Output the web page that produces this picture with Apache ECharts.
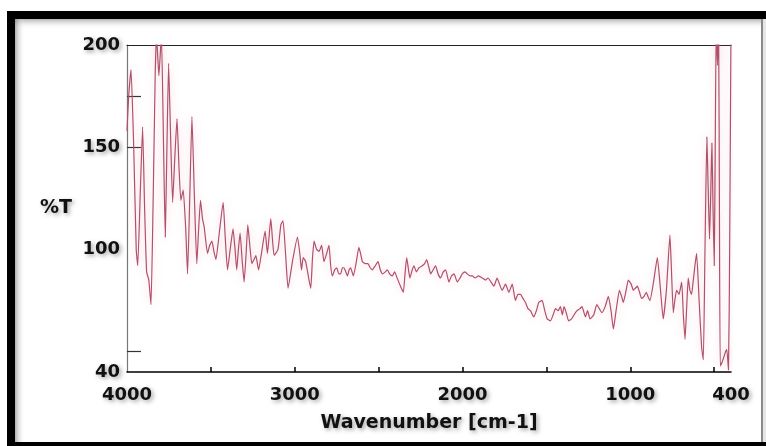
<!DOCTYPE html>
<html>
<head>
<meta charset="utf-8">
<script src="https://cdn.jsdelivr.net/npm/echarts@6/dist/echarts.min.js"></script>
<style>
html,body{margin:0;padding:0;background:#fff;}
#chart{width:766px;height:446px;}
</style>
</head>
<body>
<div id="chart"></div>
<script>
// Wavenumber (cm-1) and transmittance (%T)
const wavenumbers = [
4000,3990,3976,3960,3945,3936,3920,3907,3895,3883,3870,3857,3845,3832,3824,3810,3795,3782,3772,3762,
3752,3740,3728,3715,3702,3690,3679,3665,3650,3639,3626,3613,3598,3584,3573,3562,3550,3540,3520,3507,
3494,3482,3470,3450,3427,3414,3401,3385,3368,3356,3346,3336,3326,3314,3302,3290,3280,3268,3256,3243,
3232,3216,3195,3177,3163,3143,3133,3123,3100,3083,3070,3055,3040,3012,2984,2970,2960,2950,2935,2905,
2895,2885,2870,2855,2840,2826,2810,2796,2786,2776,2762,2750,2738,2726,2716,2707,2696,2686,2676,2667,
2651,2635,2618,2608,2597,2580,2564,2550,2538,2520,2504,2490,2478,2460,2448,2435,2419,2405,2390,2370,
2353,2343,2333,2322,2314,2300,2290,2275,2260,2240,2226,2214,2200,2190,2175,2161,2146,2131,2115,2101,
2081,2066,2051,2031,2015,2002,1985,1972,1955,1942,1925,1905,1883,1863,1848,1830,1813,1794,1780,1764,
1744,1724,1704,1685,1670,1655,1640,1625,1610,1595,1576,1560,1546,1526,1510,1496,1476,1460,1446,1430,
1417,1405,1395,1382,1368,1350,1335,1318,1300,1288,1268,1255,1240,1218,1200,1185,1170,1150,1131,1115,
1101,1085,1065,1052,1042,1025,1012,995,982,970,958,945,933,918,905,895,883,860,839,822,
804,785,764,755,744,735,724,710,694,684,674,664,655,645,635,626,615,605,590,575,
565,555,544,536,528,520,514,507,500,494,488,481,474,469,464,452,440,432,425,415,
408,400
];
const transmittance = [
158,175,188,150,100,92,130,160,120,89,85,73,120,185,205,185,205,150,106,150,
191,155,123,145,164,140,124,129,110,88,125,165,125,93,110,124,115,111,98,102,
104,99,95,108,123,105,90,100,110,100,90,100,108,95,84,98,112,102,93,95,
97,90,100,109,98,115,105,97,100,112,114,98,81,95,106,98,90,96,94,81,
95,104,100,99,102,94,98,102,92,87,90,91,88,88,91,91,89,87,90,91,
87,93,101,98,94,93,93,91,90,92,94,90,88,89,90,88,87,89,86,82,
79,88,96,90,86,90,92,89,91,92,93,95,91,88,90,92,88,86,89,90,
84,87,88,84,86,88,89,88,87,87,86,87,86,85,86,84,82,86,83,80,
83,79,83,75,78,78,76,74,71,70,67,70,74,75,70,66,65,68,71,70,
72,68,72,69,65,66,68,70,71,72,67,70,66,68,73,71,69,72,77,70,
61,70,80,77,74,80,85,83,80,81,82,79,76,77,79,77,75,85,96,82,
66,80,107,90,69,75,80,78,84,68,56,72,86,80,78,84,92,98,75,52,
46,100,155,130,105,130,152,120,92,150,210,190,210,120,43,45,48,50,51,41,
100,210
];
const xLabelValues = [4000, 3000, 2000, 1000, 400];
const xTickValues = [3500, 3000, 2500, 2000, 1500, 1000, 500];
const yLabelValues = [40, 100, 150, 200];
const yTickValues = [50, 150, 175];

const spectrum = wavenumbers.map((w, i) => [w, transmittance[i]]);

const FONT = 'DejaVu Sans';
const shadowText = {
  fontFamily: FONT, fontWeight: 'bold', fontSize: 18, color: '#111',
  textShadowColor: 'rgba(0,0,0,0.35)', textShadowBlur: 4,
  textShadowOffsetX: 2, textShadowOffsetY: 2
};

const chart = echarts.init(document.getElementById('chart'), null, {renderer: 'canvas'});
chart.setOption({
  animation: false,
  backgroundColor: '#fff',
  graphic: [
    {type: 'rect', z: -10, silent: true, shape: {x: 7, y: 11, width: 759, height: 435}, style: {fill: '#000'}},
    {type: 'rect', z: -9, silent: true, shape: {x: 15, y: 19, width: 746, height: 423}, style: {fill: '#fff'}},
    {type: 'rect', z: -8, silent: true, shape: {x: 15, y: 19, width: 746, height: 10},
      style: {fill: new echarts.graphic.LinearGradient(0, 0, 0, 1, [{offset: 0, color: 'rgba(120,120,120,0.55)'}, {offset: 1, color: 'rgba(255,255,255,0)'}])}},
    {type: 'rect', z: -8, silent: true, shape: {x: 15, y: 19, width: 10, height: 423},
      style: {fill: new echarts.graphic.LinearGradient(0, 0, 1, 0, [{offset: 0, color: 'rgba(120,120,120,0.6)'}, {offset: 1, color: 'rgba(255,255,255,0)'}])}},
    {type: 'rect', z: -8, silent: true, shape: {x: 761, y: 19, width: 2, height: 423}, style: {fill: '#8a8a8a'}},
    {type: 'rect', z: -8, silent: true, shape: {x: 763, y: 19, width: 3, height: 423}, style: {fill: '#e6e6e6'}}
  ],
  grid: {left: 127, top: 45, width: 604, height: 327, containLabel: false},
  xAxis: [
    {
      type: 'value', min: 400, max: 4000, inverse: true, position: 'bottom',
      name: 'Wavenumber [cm-1]', nameLocation: 'middle', nameGap: 42,
      nameTextStyle: Object.assign({}, shadowText, {fontSize: 19}),
      axisLine: {show: true, lineStyle: {color: '#000', width: 1.5}},
      axisTick: {show: true, inside: true, length: 5, customValues: xTickValues, lineStyle: {color: '#000', width: 1.5}},
      axisLabel: Object.assign({customValues: xLabelValues, margin: 14, formatter: v => String(v)}, shadowText),
      splitLine: {show: false}
    },
    {
      type: 'value', min: 400, max: 4000, inverse: true, position: 'top',
      axisLine: {show: true, lineStyle: {color: '#222', width: 1.2}},
      axisTick: {show: false}, axisLabel: {show: false}, splitLine: {show: false}
    }
  ],
  yAxis: {
    type: 'value', min: 40, max: 200,
    name: '%T', nameLocation: 'middle', nameGap: 55, nameRotate: 0,
    nameTextStyle: Object.assign({}, shadowText, {fontSize: 19, padding: [23, 0, 0, 0]}),
    axisLine: {show: true, lineStyle: {color: '#777', width: 1.2}},
    axisTick: {show: true, inside: true, length: 14, customValues: yTickValues, lineStyle: {color: '#333', width: 1.2}},
    axisLabel: Object.assign({customValues: yLabelValues, margin: 7, formatter: v => String(v)}, shadowText),
    splitLine: {show: false}
  },
  series: [{
    type: 'line', xAxisIndex: 0, data: spectrum, showSymbol: false, symbol: 'none',
    clip: true, smooth: 0.15,
    lineStyle: {color: '#b0506a', width: 1.2, shadowColor: 'rgba(230,140,165,0.45)', shadowBlur: 8}
  }]
});
</script>
</body>
</html>
